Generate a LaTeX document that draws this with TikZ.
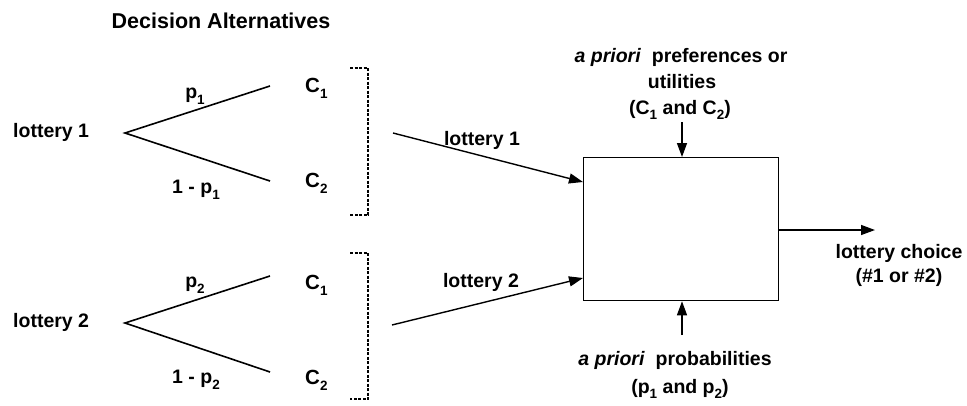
\documentclass[tikz,border=0pt]{standalone}
\usepackage{fontspec}
\setmainfont{Liberation Sans}
\usetikzlibrary{arrows.meta}
\newcommand\lsub[1]{\raisebox{-0.55ex}{\fontsize{13.5}{14}\selectfont #1}}
\begin{document}
\begin{tikzpicture}[x=1pt,y=-1pt,
  every node/.style={inner sep=0pt,font=\bfseries\fontsize{19.5}{22}\selectfont},
  lbl/.style={anchor=center},
  cnode/.style={anchor=west,font=\bfseries\fontsize{20.5}{22}\selectfont},
  branch/.style={line width=1.6pt},
  brk/.style={line width=1.3pt,dashed,dash pattern=on 3pt off 1.5pt},
  feed/.style={line width=1.4pt,-{Triangle[length=14pt,width=10pt]}},
  boxst/.style={draw,line width=1.3pt,minimum width=195pt,minimum height=143pt,anchor=north west}]
\useasboundingbox (0,0) rectangle (967,405);
% title
\node[lbl,font=\bfseries\fontsize{21.5}{24}\selectfont] (title) at (221,21) {Decision Alternatives};
% tree 1
\node[anchor=west] (lot1) at (13,132) {lottery 1};
\coordinate (apex1) at (125,133);
\coordinate (e11) at (270,86);
\coordinate (e12) at (270,181);
\draw[branch] (e11) -- (apex1) -- (e12);
\node[lbl] (p1) at (195,96) {p\lsub{1}};
\node[lbl] (q1) at (196,190) {1 - p\lsub{1}};
\node[cnode] (c11) at (305,88) {C\lsub{1}};
\node[cnode] (c12) at (305,183) {C\lsub{2}};
\coordinate (b1a) at (350,68);
\coordinate (b1b) at (368,68);
\coordinate (b1c) at (368,215);
\coordinate (b1d) at (350,215);
\draw[brk] (b1a) -- (b1b) -- (b1c) -- (b1d);
% tree 2
\node[anchor=west] (lot2) at (13,322) {lottery 2};
\coordinate (apex2) at (125,323);
\coordinate (e21) at (270,276);
\coordinate (e22) at (270,372);
\draw[branch] (e21) -- (apex2) -- (e22);
\node[lbl] (p2) at (195,285) {p\lsub{2}};
\node[lbl] (q2) at (196,380) {1 - p\lsub{2}};
\node[cnode] (c21) at (305,285) {C\lsub{1}};
\node[cnode] (c22) at (305,380) {C\lsub{2}};
\coordinate (b2a) at (350,253);
\coordinate (b2b) at (368,253);
\coordinate (b2c) at (368,399);
\coordinate (b2d) at (350,399);
\draw[brk] (b2a) -- (b2b) -- (b2c) -- (b2d);
% box
\node[boxst] (box) at (583,157) {};
\coordinate (in1) at (583,182);
\coordinate (in2) at (583,278);
\coordinate (s1) at (393,133);
\coordinate (s2) at (392,325);
\draw[feed] (s1) -- (in1);
\draw[feed] (s2) -- (in2);
\node[lbl] (l1) at (482,140) {lottery 1};
\node[lbl] (l2) at (481,282) {lottery 2};
% top input
\node[lbl] (t1) at (681,57) {\textit{a priori}\ \ preferences or};
\node[lbl] (t2) at (682,82) {utilities};
\node[lbl] (t3) at (680,110) {(C\lsub{1} and C\lsub{2})};
\coordinate (topin) at (682,122);
\draw[feed] (topin) -- (box.north -| topin);
% bottom input
\coordinate (botin) at (682,335);
\draw[feed] (botin) -- (box.south -| botin);
\node[lbl] (u1) at (675,360) {\textit{a priori}\ \ probabilities};
\node[lbl] (u2) at (680,389) {(p\lsub{1} and p\lsub{2})};
% output
\coordinate (outpt) at (875,230);
\draw[feed] (box.east |- outpt) -- (outpt);
\node[lbl] (o1) at (899,253) {lottery choice};
\node[lbl] (o2) at (899,277) {(\#1 or \#2)};
\end{tikzpicture}
\end{document}
